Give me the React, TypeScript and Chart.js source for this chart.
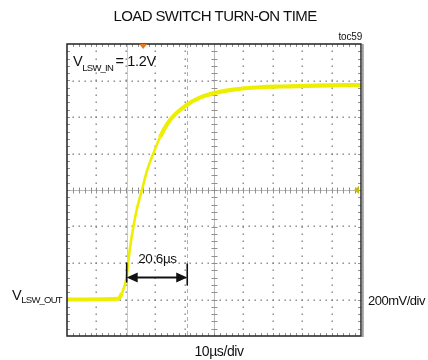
import React, { useEffect, useRef } from "react";
import { Chart, registerables } from "chart.js";

Chart.register(...registerables);

// ---- data ----
const timeUs = [0, 17.3, 18.7, 20.3, 20.9, 22.0, 23.7, 25.4, 27.3, 29.4, 31.6, 35.0, 40.7, 45.2, 50.4, 56.5, 65.6, 73.5, 84.9, 100];
const traceV = [0, 0.004, 0.036, 0.125, 0.216, 0.344, 0.49, 0.595, 0.71, 0.801, 0.888, 0.982, 1.066, 1.106, 1.132, 1.15, 1.163, 1.167, 1.172, 1.175];

const xRangeUs = [0, 100];
const xDivUs = 10;
const yRangeV = [-0.2, 1.4];
const yDivV = 0.2;
const minorPerDiv = 5;

const cursorStartUs = 20.3;
const cursorDeltaUs = 20.6;
const arrowLevelV = 0.12;
const triggerUs = 25.9;
const channelMarkerV = 0.6;

const titleText = "LOAD SWITCH TURN-ON TIME";
const tocText = "toc59";
const inLabelMain = "V";
const inLabelSub = "LSW_IN";
const inLabelTail = "= 1.2V";
const outLabelMain = "V";
const outLabelSub = "LSW_OUT";
const vScaleText = "200mV/div";
const hScaleText = "10µs/div";
const deltaText = "20.6µs";

const FONT = '"Liberation Sans", Arial, sans-serif';

function setFont(ctx: CanvasRenderingContext2D, size: number, spacing: number) {
  ctx.font = `${size}px ${FONT}`;
  (ctx as any).letterSpacing = `${spacing}px`;
}

const scopePlugin = {
  id: "scope",
  beforeDatasetsDraw(chart: any) {
    const { ctx, chartArea: a, scales } = chart;
    const x = scales.x;
    const y = scales.y;
    ctx.save();
    const xMinor = xDivUs / minorPerDiv;
    const yMinor = yDivV / minorPerDiv;
    const nx = Math.round((xRangeUs[1] - xRangeUs[0]) / xMinor);
    const ny = Math.round((yRangeV[1] - yRangeV[0]) / yMinor);
    const xc = (xRangeUs[0] + xRangeUs[1]) / 2;
    const yc = (yRangeV[0] + yRangeV[1]) / 2;
    // dotted major grid
    ctx.fillStyle = "#7e7e7e";
    for (let v = xRangeUs[0] + xDivUs; v < xRangeUs[1] - 1e-6; v += xDivUs) {
      if (Math.abs(v - xc) < 1e-6) continue;
      const px = Math.round(x.getPixelForValue(v));
      for (let k = 1; k < ny; k++) {
        const py = Math.round(y.getPixelForValue(yRangeV[0] + k * yMinor));
        ctx.fillRect(px - 0.5, py - 0.5, 1.4, 1.4);
      }
    }
    for (let v = yRangeV[0] + yDivV; v < yRangeV[1] - 1e-6; v += yDivV) {
      if (Math.abs(v - yc) < 1e-6) continue;
      const py = Math.round(y.getPixelForValue(v));
      for (let k = 1; k < nx; k++) {
        const px = Math.round(x.getPixelForValue(xRangeUs[0] + k * xMinor));
        ctx.fillRect(px - 0.5, py - 0.5, 1.4, 1.4);
      }
    }
    // center cross with ticks
    const cx = Math.round(x.getPixelForValue(xc)) + 0.5;
    const cy = Math.round(y.getPixelForValue(yc)) + 0.5;
    ctx.strokeStyle = "#b8b8b8";
    ctx.lineWidth = 1;
    ctx.beginPath();
    ctx.moveTo(a.left, cy);
    ctx.lineTo(a.right, cy);
    ctx.moveTo(cx, a.top);
    ctx.lineTo(cx, a.bottom);
    ctx.stroke();
    ctx.strokeStyle = "#909090";
    ctx.beginPath();
    for (let k = 1; k < nx; k++) {
      const px = Math.round(x.getPixelForValue(xRangeUs[0] + k * xMinor)) + 0.5;
      ctx.moveTo(px, cy - 3);
      ctx.lineTo(px, cy + 3);
      ctx.moveTo(px, a.top);
      ctx.lineTo(px, a.top + 3);
      ctx.moveTo(px, a.bottom);
      ctx.lineTo(px, a.bottom - 3);
    }
    for (let k = 1; k < ny; k++) {
      const py = Math.round(y.getPixelForValue(yRangeV[0] + k * yMinor)) + 0.5;
      ctx.moveTo(cx - 3, py);
      ctx.lineTo(cx + 3, py);
      ctx.moveTo(a.left, py);
      ctx.lineTo(a.left + 3, py);
      ctx.moveTo(a.right, py);
      ctx.lineTo(a.right - 3, py);
    }
    ctx.stroke();
    // cursors
    const c1 = Math.round(x.getPixelForValue(cursorStartUs)) + 0.5;
    const c2 = Math.round(x.getPixelForValue(cursorStartUs + cursorDeltaUs)) + 0.5;
    ctx.strokeStyle = "#d6d08a";
    ctx.lineWidth = 1;
    ctx.beginPath();
    ctx.moveTo(c1, a.top);
    ctx.lineTo(c1, a.bottom);
    ctx.stroke();
    ctx.strokeStyle = "#c8bc2a";
    ctx.setLineDash([4, 3]);
    ctx.beginPath();
    ctx.moveTo(c2, a.top);
    ctx.lineTo(c2, a.bottom);
    ctx.stroke();
    ctx.setLineDash([]);
    ctx.restore();
  },
  afterDatasetsDraw(chart: any) {
    const { ctx, chartArea: a, scales } = chart;
    const x = scales.x;
    const y = scales.y;
    ctx.save();
    // border
    ctx.strokeStyle = "#222";
    ctx.lineWidth = 1.5;
    ctx.strokeRect(a.left, a.top, a.right - a.left, a.bottom - a.top);
    ctx.strokeStyle = "#a0a0a0";
    ctx.lineWidth = 2;
    ctx.beginPath();
    ctx.moveTo(a.right + 1.8, a.top);
    ctx.lineTo(a.right + 1.8, a.bottom + 1);
    ctx.stroke();
    // measurement arrow
    const x1 = x.getPixelForValue(cursorStartUs);
    const x2 = x.getPixelForValue(cursorStartUs + cursorDeltaUs);
    const ay = y.getPixelForValue(arrowLevelV);
    ctx.strokeStyle = "#111";
    ctx.fillStyle = "#111";
    ctx.lineWidth = 1.6;
    ctx.beginPath();
    ctx.moveTo(x1, ay - 15);
    ctx.lineTo(x1, ay + 5);
    ctx.moveTo(x2, ay - 14);
    ctx.lineTo(x2, ay + 8);
    ctx.stroke();
    ctx.lineWidth = 2;
    ctx.beginPath();
    ctx.moveTo(x1 + 8, ay);
    ctx.lineTo(x2 - 8, ay);
    ctx.stroke();
    ctx.beginPath();
    ctx.moveTo(x1, ay);
    ctx.lineTo(x1 + 11, ay - 5);
    ctx.lineTo(x1 + 11, ay + 5);
    ctx.closePath();
    ctx.moveTo(x2, ay);
    ctx.lineTo(x2 - 11, ay - 5);
    ctx.lineTo(x2 - 11, ay + 5);
    ctx.closePath();
    ctx.fill();
    // trigger marker
    const tx = x.getPixelForValue(triggerUs);
    ctx.fillStyle = "#e8781e";
    ctx.beginPath();
    ctx.moveTo(tx - 4, a.top);
    ctx.lineTo(tx + 4, a.top);
    ctx.lineTo(tx, a.top + 5);
    ctx.closePath();
    ctx.fill();
    // channel marker
    const my = y.getPixelForValue(channelMarkerV);
    ctx.fillStyle = "#c4bc10";
    ctx.beginPath();
    ctx.moveTo(a.right - 7, my);
    ctx.lineTo(a.right - 2, my - 4);
    ctx.lineTo(a.right - 2, my + 4);
    ctx.closePath();
    ctx.fill();
    ctx.restore();
  },
  afterDraw(chart: any) {
    const { ctx, chartArea: a, scales } = chart;
    const x = scales.x;
    const y = scales.y;
    ctx.save();
    ctx.fillStyle = "#111";
    ctx.textBaseline = "alphabetic";
    // title
    setFont(ctx, 15, -0.6);
    ctx.textAlign = "center";
    ctx.fillText(titleText, (a.left + a.right) / 2 + 1, 21);
    // toc
    setFont(ctx, 10, -0.2);
    ctx.textAlign = "right";
    ctx.fillText(tocText, a.right + 1, 39.5);
    ctx.textAlign = "left";
    // V_LSW_IN
    let px = a.left + 6;
    setFont(ctx, 14.5, -0.3);
    ctx.fillText(inLabelMain, px, 65.5);
    px += ctx.measureText(inLabelMain).width;
    setFont(ctx, 9.5, -0.8);
    ctx.fillText(inLabelSub, px, 70.5);
    px += ctx.measureText(inLabelSub).width + 2.5;
    setFont(ctx, 14.5, -0.3);
    ctx.fillText(inLabelTail, px, 65.5);
    // V_LSW_OUT
    px = 12;
    setFont(ctx, 14.5, -0.3);
    ctx.fillText(outLabelMain, px, 299.5);
    px += ctx.measureText(outLabelMain).width;
    setFont(ctx, 9.5, -0.8);
    ctx.fillText(outLabelSub, px, 303);
    // vertical scale
    setFont(ctx, 13, -0.5);
    ctx.fillText(vScaleText, a.right + 7, 305);
    // horizontal scale
    ctx.textAlign = "center";
    setFont(ctx, 14, -0.4);
    ctx.fillText(hScaleText, (a.left + a.right) / 2 + 5, 355.5);
    // delta
    setFont(ctx, 13.5, -0.4);
    const x1 = x.getPixelForValue(cursorStartUs);
    const x2 = x.getPixelForValue(cursorStartUs + cursorDeltaUs);
    ctx.fillText(deltaText, (x1 + x2) / 2 + 0.5, y.getPixelForValue(arrowLevelV) - 14.5);
    ctx.restore();
  },
};

export default function App() {
  const ref = useRef<HTMLCanvasElement | null>(null);
  useEffect(() => {
    if (!ref.current) return;
    const points = timeUs.map((t, i) => ({ x: t, y: traceV[i] }));
    const chart = new Chart(ref.current, {
      type: "scatter",
      data: {
        datasets: [
          {
            data: points,
            showLine: true,
            borderColor: "#eeee00",
            borderWidth: 4,
            pointRadius: 0,
            cubicInterpolationMode: "monotone",
            segment: {
              borderWidth: (c: any) => {
                const dt = c.p1.parsed.x - c.p0.parsed.x;
                const dv = c.p1.parsed.y - c.p0.parsed.y;
                return dv / dt > 0.03 ? 2.6 : 4.2;
              },
            },
          } as any,
        ],
      },
      options: {
        responsive: false,
        animation: false,
        layout: { padding: { left: 67, top: 44, right: 67, bottom: 24 } },
        plugins: { legend: { display: false }, title: { display: false }, tooltip: { enabled: false } },
        scales: {
          x: { type: "linear", min: xRangeUs[0], max: xRangeUs[1], display: false },
          y: { type: "linear", min: yRangeV[0], max: yRangeV[1], display: false },
        },
      },
      plugins: [scopePlugin],
    });
    return () => chart.destroy();
  }, []);
  return (
    <div style={{ position: "fixed", left: 0, top: 0, width: 428, height: 360, background: "#fff" }}>
      <canvas ref={ref} width={428} height={360} style={{ width: 428, height: 360, display: "block" }} />
    </div>
  );
}
